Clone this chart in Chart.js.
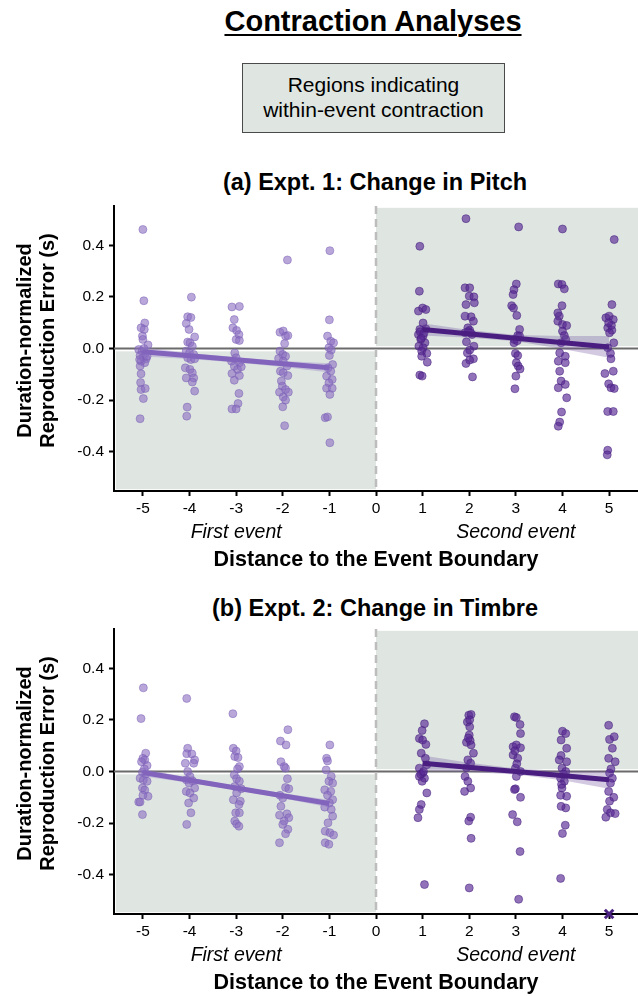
<!DOCTYPE html>
<html>
<head>
<meta charset="utf-8">
<script src="https://cdn.jsdelivr.net/npm/chart.js@4.4.0/dist/chart.umd.min.js"></script>
<style>
  html, body { margin: 0; padding: 0; background: #fff; overflow: hidden; }
  body { width: 638px; height: 996px; position: relative; font-family: "Liberation Sans", Arial, Helvetica, sans-serif; color: #000; }
  .title { position: absolute; left: 111px; width: 524px; top: 7px; text-align: center; font-weight: bold; font-size: 29px; line-height: 29px; text-decoration: underline; text-decoration-thickness: 2px; text-underline-offset: 3px; }
  .box { position: absolute; left: 242px; top: 63px; width: 261px; height: 60px; padding-top: 8px; background: #dfe6e1; border: 1px solid #4a4a4a; text-align: center; font-size: 21px; line-height: 25px; }
  .ptitle { position: absolute; left: 111px; width: 528px; text-align: center; font-weight: bold; font-size: 23.5px; line-height: 28px; }
  canvas { position: absolute; left: 0; }
</style>
</head>
<body>
<div class="title">Contraction Analyses</div>
<div class="box">Regions indicating<br>within-event contraction</div>
<div class="ptitle" style="top:168px">(a) Expt. 1: Change in Pitch</div>
<canvas id="chartA" width="638" height="390" style="top:190px"></canvas>
<div class="ptitle" style="top:594px">(b) Expt. 2: Change in Timbre</div>
<canvas id="chartB" width="638" height="383" style="top:613px"></canvas>
<script>
// tick values
const xTicks = [-5, -4, -3, -2, -1, 0, 1, 2, 3, 4, 5];
const yTicks = [-0.4, -0.2, 0, 0.2, 0.4];

// (a) pitch, first event (negative distances)
const pitchFirst = [
  [-5.00,0.461],[-4.98,0.185],[-4.96,0.099],[-5.04,0.080],[-4.97,0.074],[-5.01,0.048],[-5.00,0.035],[-4.89,0.014],
  [-5.09,-0.004],[-5.02,-0.010],[-4.95,-0.019],[-5.06,-0.027],[-4.99,-0.035],[-4.93,-0.040],[-5.04,-0.049],[-4.96,-0.055],
  [-5.06,-0.068],[-5.04,-0.098],[-5.05,-0.132],[-5.04,-0.159],[-4.95,-0.155],[-4.99,-0.194],[-5.06,-0.272],[-4.98,0.000],
  [-4.91,-0.030],[-5.07,-0.043],
  [-3.96,0.199],[-4.04,0.123],[-3.97,0.120],[-4.07,0.097],[-4.01,0.074],[-3.89,0.045],[-4.04,0.025],[-3.99,0.022],
  [-3.94,0.009],[-4.07,-0.010],[-4.00,-0.017],[-3.91,-0.023],[-4.04,-0.036],[-3.97,-0.043],[-3.89,-0.040],[-4.09,-0.075],
  [-3.99,-0.081],[-3.94,-0.094],[-4.07,-0.114],[-3.91,-0.114],[-3.94,-0.130],[-3.89,-0.165],[-4.05,-0.227],[-4.06,-0.262],
  [-3.09,0.161],[-2.93,0.163],[-3.04,0.112],[-3.07,0.080],[-2.99,0.070],[-2.94,0.054],[-3.00,0.035],[-2.93,0.031],
  [-3.03,-0.017],[-3.00,-0.036],[-3.10,-0.049],[-2.93,-0.055],[-3.04,-0.068],[-2.97,-0.081],[-3.09,-0.097],[-2.89,-0.071],
  [-3.04,-0.123],[-2.93,-0.105],[-2.94,-0.174],[-2.96,-0.213],[-3.09,-0.234],[-3.00,-0.234],
  [-1.90,0.343],[-2.06,0.063],[-1.99,0.068],[-1.94,0.048],[-1.89,0.050],[-1.96,0.019],[-2.06,-0.010],[-2.00,-0.023],
  [-1.94,-0.030],[-2.09,-0.039],[-1.99,-0.049],[-1.91,-0.068],[-2.05,-0.088],[-1.99,-0.094],[-1.89,-0.105],[-2.03,-0.126],
  [-2.01,-0.146],[-2.07,-0.169],[-1.94,-0.159],[-1.88,-0.169],[-1.99,-0.188],[-1.94,-0.200],[-2.00,-0.226],[-1.96,-0.299],
  [-0.99,0.379],[-1.00,0.111],[-1.04,0.048],[-0.97,0.028],[-0.91,0.022],[-1.01,0.003],[-0.96,-0.006],[-1.00,-0.027],
  [-0.93,-0.062],[-1.03,-0.075],[-0.97,-0.088],[-1.06,-0.107],[-0.94,-0.120],[-1.01,-0.133],[-1.06,-0.154],[-0.94,-0.154],
  [-0.99,-0.178],[-1.09,-0.268],[-1.04,-0.265],[-0.99,-0.365]
];

// (a) pitch, second event (positive distances)
const pitchSecond = [
  [0.94,0.396],[0.93,0.222],[0.91,0.145],[1.00,0.157],[1.07,0.151],[1.01,0.099],[0.94,0.074],[1.07,0.076],
  [0.91,0.054],[1.01,0.048],[0.96,0.035],[1.05,0.022],[0.92,0.009],[1.01,0.003],[0.98,-0.010],[1.09,-0.019],
  [0.98,-0.030],[1.10,-0.053],[0.94,-0.103],[0.99,-0.107],[0.95,0.065],[1.03,0.060],[0.97,0.040],
  [1.93,0.503],[1.91,0.235],[2.01,0.235],[2.00,0.203],[2.10,0.200],[1.93,0.170],[2.11,0.177],[2.04,0.123],
  [1.91,0.125],[2.09,0.106],[1.97,0.080],[2.01,0.071],[1.91,0.061],[2.06,0.054],[1.94,0.026],[2.10,0.009],
  [2.01,-0.006],[1.96,-0.017],[2.09,-0.040],[2.01,-0.045],[1.93,-0.058],[2.07,-0.110],[1.98,0.065],[2.03,0.060],
  [3.06,0.471],[3.01,0.250],[2.96,0.228],[2.94,0.209],[2.91,0.166],[2.95,0.157],[3.02,0.128],[3.08,0.074],
  [3.04,0.050],[2.96,0.022],[3.08,0.048],[2.99,-0.019],[3.04,-0.027],[3.01,-0.055],[3.05,-0.068],[3.09,-0.079],
  [3.00,-0.107],[2.98,-0.156],[2.97,0.035],[3.03,0.030],
  [4.00,0.463],[3.91,0.250],[3.99,0.248],[4.04,0.231],[3.99,0.166],[3.90,0.138],[3.93,0.125],[3.90,0.106],
  [4.00,0.093],[4.09,0.089],[4.00,0.067],[4.04,0.050],[3.97,0.022],[4.07,0.035],[3.94,-0.017],[4.06,-0.030],
  [3.91,-0.049],[4.06,-0.055],[3.94,-0.088],[3.97,-0.126],[4.06,-0.139],[3.91,-0.152],[4.09,-0.191],[3.98,-0.246],
  [3.94,-0.285],[3.91,-0.301],
  [5.11,0.422],[5.06,0.170],[4.93,0.119],[5.00,0.125],[5.09,0.112],[4.97,0.080],[5.06,0.071],[5.01,0.061],
  [5.10,0.022],[4.97,0.003],[5.03,-0.019],[5.04,-0.040],[4.91,-0.097],[5.09,-0.088],[4.99,-0.137],[5.04,-0.152],
  [5.11,-0.155],[4.97,-0.244],[5.09,-0.244],[4.97,-0.394],[4.96,-0.412],[5.05,0.090],[4.99,0.100]
];

// (b) timbre, first event
const timbreFirst = [
  [-4.99,0.324],[-5.04,0.205],[-4.94,0.071],[-5.00,0.051],[-4.96,0.045],[-5.03,0.038],[-4.91,0.023],[-4.97,0.010],
  [-5.01,-0.003],[-4.94,-0.010],[-5.06,-0.026],[-4.99,-0.033],[-4.91,-0.038],[-5.01,-0.064],[-4.96,-0.072],[-4.89,-0.096],
  [-5.00,-0.092],[-5.09,-0.118],[-5.06,-0.118],[-5.01,-0.167],
  [-4.06,0.283],[-4.04,0.090],[-4.06,0.069],[-3.95,0.068],[-3.89,0.045],[-4.09,0.032],[-3.91,0.032],[-4.04,0.000],
  [-3.99,-0.019],[-4.07,-0.032],[-3.94,-0.036],[-4.01,-0.045],[-3.89,-0.064],[-4.07,-0.077],[-3.99,-0.083],[-3.91,-0.103],
  [-4.02,-0.122],[-3.97,-0.160],[-4.06,-0.205],
  [-3.07,0.224],[-3.06,0.090],[-3.00,0.079],[-3.03,0.058],[-2.96,0.054],[-2.93,0.019],[-2.97,0.010],[-3.04,-0.013],
  [-2.99,-0.028],[-2.93,-0.038],[-3.03,-0.058],[-2.89,-0.067],[-2.99,-0.083],[-3.06,-0.109],[-2.91,-0.115],[-2.94,-0.128],
  [-3.01,-0.160],[-2.93,-0.160],[-3.03,-0.192],[-2.99,-0.203],[-2.94,-0.212],
  [-1.89,0.162],[-2.05,0.118],[-1.93,0.103],[-2.04,0.038],[-1.97,0.019],[-1.94,0.013],[-1.90,-0.028],[-1.94,-0.062],
  [-1.87,-0.067],[-2.06,-0.092],[-2.00,-0.103],[-2.04,-0.135],[-1.91,-0.164],[-2.07,-0.169],[-1.87,-0.179],[-1.97,-0.192],
  [-2.00,-0.205],[-1.89,-0.224],[-1.94,-0.241],[-2.07,-0.276],
  [-0.99,0.103],[-1.06,0.051],[-1.04,0.041],[-1.07,0.006],[-0.96,-0.019],[-1.01,-0.038],[-0.93,-0.045],[-1.10,-0.071],
  [-0.97,-0.077],[-1.04,-0.092],[-0.93,-0.109],[-1.00,-0.122],[-1.10,-0.138],[-0.96,-0.147],[-0.93,-0.173],[-1.03,-0.199],
  [-1.09,-0.231],[-0.99,-0.237],[-0.91,-0.246],[-1.09,-0.276],[-1.01,-0.282]
];

// (b) timbre, second event
const timbreSecond = [
  [1.04,0.185],[0.99,0.159],[0.93,0.128],[1.00,0.122],[1.07,0.105],[0.97,0.071],[1.06,0.051],[0.93,0.013],
  [1.09,0.026],[1.00,-0.006],[0.93,-0.019],[1.04,-0.026],[0.99,-0.038],[1.09,-0.083],[0.97,-0.128],[0.93,-0.147],
  [0.90,-0.179],[1.04,-0.438],[0.96,-0.010],[1.02,0.000],
  [1.99,0.218],[2.04,0.221],[1.96,0.192],[2.01,0.173],[2.00,0.141],[1.94,0.113],[2.04,0.103],[2.09,0.071],
  [1.97,0.045],[2.03,0.032],[1.94,0.015],[1.91,-0.019],[1.97,-0.038],[2.03,-0.064],[1.90,-0.077],[2.03,-0.177],
  [1.99,-0.192],[2.04,-0.259],[2.00,-0.451],[2.02,0.120],[1.98,0.130],[2.01,0.200],
  [2.97,0.212],[3.01,0.209],[3.09,0.182],[3.10,0.147],[2.94,0.096],[3.01,0.103],[3.10,0.092],[2.94,0.064],
  [3.04,0.051],[2.99,0.013],[3.10,0.000],[3.01,-0.019],[2.99,-0.067],[3.10,-0.100],[2.93,-0.167],[3.03,-0.195],
  [3.09,-0.310],[3.06,-0.495],[2.98,0.080],[3.02,0.030],[2.97,-0.070],
  [4.00,0.156],[4.07,0.147],[3.97,0.122],[4.09,0.090],[3.97,0.062],[3.93,0.045],[4.09,0.038],[3.99,0.013],
  [4.07,0.000],[3.96,-0.026],[4.04,-0.038],[3.99,-0.064],[4.09,-0.096],[3.96,-0.092],[4.07,-0.141],[3.97,-0.135],
  [4.06,-0.208],[4.00,-0.240],[3.96,-0.414],[4.02,-0.010],[3.98,-0.050],
  [4.99,0.179],[5.01,0.124],[5.11,0.135],[5.07,0.090],[4.99,0.051],[5.13,0.038],[5.04,0.010],[5.01,-0.006],
  [5.07,-0.026],[5.03,-0.045],[4.99,-0.077],[5.10,-0.100],[5.01,-0.115],[4.96,-0.147],[5.03,-0.160],[5.13,-0.163],
  [4.93,-0.177]
];

// point beyond the axis range in (b), shown as an x
const timbreOut = [[5, -0.552]];

// regression lines (ends) and confidence bands
const firstFitX = [-5, -1];
const secondFitX = [1, 5];
const bandFirstX = [-5, -4, -3, -2, -1];
const bandSecondX = [1, 2, 3, 4, 5];

const pitchFirstFit = [-0.013, -0.075];
const pitchFirstHi = [0.005, -0.017, -0.034, -0.048, -0.057];
const pitchFirstLo = [-0.031, -0.041, -0.054, -0.072, -0.093];
const pitchSecondFit = [0.074, 0.006];
const pitchSecondHi = [0.098, 0.072, 0.052, 0.048, 0.048];
const pitchSecondLo = [0.050, 0.042, 0.028, -0.002, -0.036];

const timbreFirstFit = [-0.004, -0.124];
const timbreFirstHi = [0.011, -0.024, -0.056, -0.084, -0.109];
const timbreFirstLo = [-0.019, -0.044, -0.072, -0.104, -0.139];
const timbreSecondFit = [0.032, -0.032];
const timbreSecondHi = [0.062, 0.034, 0.012, 0.002, 0.003];
const timbreSecondLo = [0.002, -0.002, -0.012, -0.034, -0.067];

const FONT = '"Liberation Sans", Arial, Helvetica, sans-serif';
const SHADE = '#dfe6e1';

function pairs(xs, ys) {
    return xs.map((x, i) => ({ x: x, y: ys[i] }));
}

const decor = {
    id: 'decor',
    beforeDatasetsDraw(chart) {
        const ctx = chart.ctx;
        const a = chart.chartArea;
        const x = chart.scales.x;
        const y = chart.scales.y;
        ctx.save();
        // shaded contraction regions
        ctx.fillStyle = SHADE;
        let l = x.getPixelForValue(-5.58), r = x.getPixelForValue(0);
        let t = y.getPixelForValue(-0.011), b = y.getPixelForValue(-0.545);
        ctx.fillRect(l, t, r - l, b - t);
        l = x.getPixelForValue(0); r = a.right;
        t = y.getPixelForValue(0.545); b = y.getPixelForValue(0.009);
        ctx.fillRect(l, t, r - l, b - t);
        // zero line
        ctx.strokeStyle = '#6b6b6b';
        ctx.lineWidth = 2;
        const y0 = y.getPixelForValue(0);
        ctx.beginPath(); ctx.moveTo(a.left, y0); ctx.lineTo(a.right, y0); ctx.stroke();
        // boundary line
        ctx.strokeStyle = '#bdbdbd';
        ctx.lineWidth = 2.5;
        ctx.setLineDash([8, 5]);
        const x0 = x.getPixelForValue(0);
        ctx.beginPath(); ctx.moveTo(x0, a.top); ctx.lineTo(x0, a.bottom); ctx.stroke();
        ctx.restore();
    },
    afterDraw(chart) {
        const ctx = chart.ctx;
        const a = chart.chartArea;
        const x = chart.scales.x;
        ctx.save();
        ctx.fillStyle = '#000';
        ctx.textAlign = 'center';
        ctx.textBaseline = 'middle';
        // y axis title, two lines
        ctx.save();
        ctx.translate(25, (a.top + a.bottom) / 2 - 8);
        ctx.rotate(-Math.PI / 2);
        ctx.font = 'bold 20px ' + FONT;
        ctx.fillText('Duration-normalized', 0, 0);
        ctx.fillText('Reproduction Error (s)', 0, 23);
        ctx.restore();
        // event labels
        ctx.font = 'italic 19.5px ' + FONT;
        ctx.fillText('First event', x.getPixelForValue(-3), a.bottom + 42);
        ctx.fillText('Second event', x.getPixelForValue(3), a.bottom + 42);
        // x axis title
        ctx.font = 'bold 21.5px ' + FONT;
        ctx.fillText('Distance to the Event Boundary', (a.left + a.right) / 2, a.bottom + 69);
        ctx.restore();
    }
};

function makeChart(id, first, second, fits, out) {
    const lightPt = 'rgba(138,108,194,0.6)';
    const darkPt = 'rgba(88,40,148,0.65)';
    const datasets = [
        { type: 'line', data: pairs(firstFitX, fits.firstFit), borderColor: '#8264bd', borderWidth: 5, pointRadius: 0, order: 1 },
        { type: 'line', data: pairs(secondFitX, fits.secondFit), borderColor: '#4a1e80', borderWidth: 5, pointRadius: 0, order: 1 },
        { type: 'line', data: pairs(bandFirstX, fits.firstHi), borderWidth: 0, pointRadius: 0, fill: '+1', backgroundColor: 'rgba(150,125,200,0.35)', order: 2 },
        { type: 'line', data: pairs(bandFirstX, fits.firstLo), borderWidth: 0, pointRadius: 0, fill: false, order: 2 },
        { type: 'line', data: pairs(bandSecondX, fits.secondHi), borderWidth: 0, pointRadius: 0, fill: '+1', backgroundColor: 'rgba(110,80,160,0.3)', order: 2 },
        { type: 'line', data: pairs(bandSecondX, fits.secondLo), borderWidth: 0, pointRadius: 0, fill: false, order: 2 },
        { data: first, pointRadius: 4, backgroundColor: lightPt, borderColor: 'rgba(120,92,180,0.6)', borderWidth: 0.8, order: 3 },
        { data: second, pointRadius: 4, backgroundColor: darkPt, borderColor: 'rgba(70,30,125,0.65)', borderWidth: 0.8, order: 3 }
    ];
    if (out) {
        datasets.push({ data: out, pointStyle: 'crossRot', pointRadius: 6, borderColor: '#4b2282', borderWidth: 3, clip: false, order: 0 });
    }
    const canvas = document.getElementById(id);
    const xHeight = canvas.height - 16 - 285;
    return new Chart(canvas.getContext('2d'), {
        type: 'scatter',
        data: { datasets: datasets },
        options: {
            responsive: false,
            animation: false,
            events: [],
            layout: { autoPadding: false, padding: { top: 16, left: 0, right: 0, bottom: 0 } },
            plugins: { legend: { display: false }, tooltip: { enabled: false } },
            scales: {
                x: {
                    type: 'linear',
                    min: -5.62,
                    max: 5.62,
                    afterBuildTicks: s => { s.ticks = xTicks.map(v => ({ value: v })); },
                    afterFit: s => { s.height = xHeight; s.paddingLeft = 0; s.paddingRight = 0; },
                    ticks: { color: '#000', padding: 3, font: { family: FONT, size: 15.5 }, callback: v => String(v) },
                    grid: { drawOnChartArea: false, drawTicks: true, tickLength: 5, color: '#000', tickWidth: 2 },
                    border: { color: '#000', width: 2 }
                },
                y: {
                    min: -0.552,
                    max: 0.552,
                    afterBuildTicks: s => { s.ticks = yTicks.map(v => ({ value: v })); },
                    afterFit: s => { s.width = 114; s.paddingTop = 0; s.paddingBottom = 0; },
                    ticks: { color: '#000', padding: 5, font: { family: FONT, size: 15.5 }, callback: v => v.toFixed(1) },
                    grid: { drawOnChartArea: false, drawTicks: true, tickLength: 5, color: '#000', tickWidth: 2 },
                    border: { color: '#000', width: 2 }
                }
            }
        },
        plugins: [decor]
    });
}

makeChart('chartA', pitchFirst, pitchSecond, {
    firstFit: pitchFirstFit, firstHi: pitchFirstHi, firstLo: pitchFirstLo,
    secondFit: pitchSecondFit, secondHi: pitchSecondHi, secondLo: pitchSecondLo
}, null);

makeChart('chartB', timbreFirst, timbreSecond, {
    firstFit: timbreFirstFit, firstHi: timbreFirstHi, firstLo: timbreFirstLo,
    secondFit: timbreSecondFit, secondHi: timbreSecondHi, secondLo: timbreSecondLo
}, timbreOut);
</script>
</body>
</html>
